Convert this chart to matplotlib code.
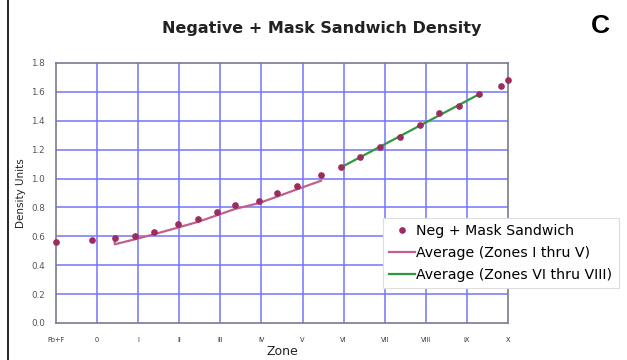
import matplotlib
matplotlib.use("Agg")
import matplotlib.pyplot as plt
from matplotlib.lines import Line2D

plt.rcParams['font.family'] = ['DejaVu Sans']

# Data
zone_labels = ["Fb+F", "0", "I", "II", "III", "IV", "V", "VI", "VII", "VIII", "IX", "X"]
step_zone = [0.0, 0.88, 1.43, 1.93, 2.39, 2.96, 3.45, 3.91, 4.36, 4.94, 5.38, 5.86,
             6.45, 6.94, 7.40, 7.88, 8.37, 8.86, 9.32, 9.81, 10.30, 10.83, 11.0]
density = [0.563, 0.575, 0.587, 0.600, 0.630, 0.685, 0.718, 0.767, 0.815, 0.845, 0.900, 0.950,
           1.025, 1.078, 1.147, 1.217, 1.286, 1.371, 1.456, 1.505, 1.584, 1.641, 1.683]
avg1_zone = [1.43, 1.43, 1.93, 2.39, 2.96, 3.45, 3.91, 4.36, 4.94, 5.38, 5.86, 6.45]
avg1_val = [0.585, 0.545, 0.580, 0.615, 0.660, 0.700, 0.745, 0.790, 0.830, 0.875, 0.925, 0.985]
avg2_zone = [6.94, 10.30]
avg2_val = [1.078, 1.584]

fig = plt.figure(figsize=(6.27, 3.6), dpi=100)
ax = fig.add_axes([56/627, 37/360, 452/627, 260/360])

grid_c = '#7474ff'
for i in range(1, 11):
    ax.axvline(i, color=grid_c, lw=1.1, zorder=1)
for v in [0.2, 0.4, 0.6, 0.8, 1.0, 1.2, 1.4, 1.6]:
    ax.axhline(v, color=grid_c, lw=1.1, zorder=1)

ax.plot(avg1_zone, avg1_val, color='#c2608c', lw=1.6, zorder=3,
        label='Average (Zones I thru V)')
ax.plot(avg2_zone, avg2_val, color='#2e9a3e', lw=1.6, zorder=3,
        label='Average (Zones VI thru VIII)')
ax.plot(step_zone, density, linestyle='none', marker='o', ms=3.8,
        color='#9b2d5e', zorder=4, clip_on=False, label='Neg + Mask Sandwich')

ax.set_xlim(0, 11)
ax.set_ylim(0, 1.8)
ax.set_xticks(range(12))
ax.set_xticklabels(zone_labels, fontsize=4.8, color='#333333')
ax.set_yticks([0.0, 0.2, 0.4, 0.6, 0.8, 1.0, 1.2, 1.4, 1.6, 1.8])
ax.set_yticklabels(['0.0', '0.2', '0.4', '0.6', '0.8', '1.0', '1.2', '1.4', '1.6', '1.8'],
                   fontsize=6.3, color='#555555')
ax.tick_params(length=0, pad=10)
ax.tick_params(axis='y', pad=8)
for s in ax.spines.values():
    s.set_color('#7a7a90')
    s.set_linewidth(1.2)

ax.set_xlabel('Zone', fontsize=9, color='#222222')
ax.set_ylabel('Density Units', fontsize=7.5, color='#222222')
ax.xaxis.set_label_coords(226/452, -22/260)
ax.yaxis.set_label_coords(-30/452, 0.5)

fig.text(322/627, 1 - 28/360, 'Negative + Mask Sandwich Density', ha='center', va='center',
         fontsize=11.5, fontweight='bold', color='#222222')
fig.text(600/627, 1 - 26/360, 'C', ha='center', va='center', fontsize=19,
         fontweight='bold', color='black', family='Liberation Sans')

fig.add_artist(Line2D([8/627, 8/627], [0, 1], transform=fig.transFigure, color='black', lw=1.2))

handles, labels = ax.get_legend_handles_labels()
order = [2, 0, 1]
leg = fig.legend([handles[i] for i in order], [labels[i] for i in order],
                 loc='upper left', bbox_to_anchor=(383/627, 1 - 218/360),
                 fontsize=10.2, frameon=True, fancybox=False, framealpha=1,
                 edgecolor='#dddddd', handlelength=1.8, handletextpad=0.1,
                 borderpad=0.45, labelspacing=0.55, borderaxespad=0)
leg.get_frame().set_linewidth(0.8)

fig.savefig('out.png', dpi=100)
